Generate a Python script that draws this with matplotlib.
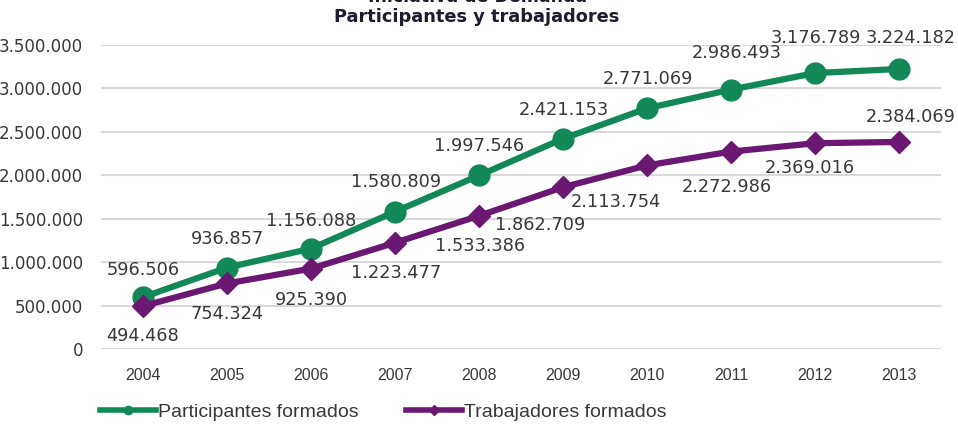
import matplotlib
matplotlib.use("Agg")
import matplotlib.pyplot as plt
from matplotlib.lines import Line2D
from matplotlib.ticker import FuncFormatter

years = ["2004", "2005", "2006", "2007", "2008", "2009", "2010", "2011", "2012", "2013"]
participantes = [596506, 936857, 1156088, 1580809, 1997546, 2421153, 2771069, 2986493, 3176789, 3224182]
trabajadores = [494468, 754324, 925390, 1223477, 1533386, 1862709, 2113754, 2272986, 2369016, 2384069]
yticks = [0, 500000, 1000000, 1500000, 2000000, 2500000, 3000000, 3500000]

# label offsets in pixels (dx, dy)
green_off = [(0, 27), (0, 29), (0, 28), (1, 30), (0, 29), (1, 29), (1, 29), (6, 37), (1, 35), (12, 31)]
purple_off = [(0, -30), (0, -31), (0, -31), (1, -30), (1, -30), (-23, -38), (-31, -37), (-4, -35), (-5, -25), (12, 25)]

GREEN = "#128858"
PURPLE = "#6a1872"
TXT = "#383838"


def dots(v, _=None):
    return "0" if v == 0 else f"{int(v):,}".replace(",", ".")


fig = plt.figure(figsize=(9.58, 4.33), dpi=100)
ax = fig.add_axes([101 / 958, 1 - 349 / 433, 840 / 958, 304 / 433])
x = range(len(years))

ax.plot(x, participantes, color=GREEN, lw=4.5, marker="o", ms=15, zorder=3, solid_capstyle="round")
ax.plot(x, trabajadores, color=PURPLE, lw=4.5, marker="D", ms=11, zorder=3, solid_capstyle="round")

for i, v in enumerate(participantes):
    dx, dy = green_off[i]
    ax.annotate(dots(v), (i, v), xytext=(dx * 0.72, dy * 0.72), textcoords="offset points",
                ha="center", va="center", fontsize=12.8, color=TXT)
for i, v in enumerate(trabajadores):
    dx, dy = purple_off[i]
    ax.annotate(dots(v), (i, v), xytext=(dx * 0.72, dy * 0.72), textcoords="offset points",
                ha="center", va="center", fontsize=12.8, color=TXT)

ax.set_xlim(-0.5, len(years) - 0.5)
ax.set_ylim(0, 3500000)
ax.set_yticks(yticks)
ax.yaxis.set_major_formatter(FuncFormatter(dots))
ax.set_xticks(list(x))
ax.set_xticklabels(years, family="Liberation Sans")
ax.tick_params(axis="y", length=0, pad=13, labelsize=12, labelcolor=TXT)
ax.tick_params(axis="x", length=0, pad=14, labelsize=11.5, labelcolor=TXT)
ax.grid(axis="y", color="#d9d9d9", lw=1.5, zorder=0)
ax.set_axisbelow(True)
for s in ax.spines.values():
    s.set_visible(False)

# title (first line is cut by the top edge in the reference)
fig.text(0.498, 1 + 3 / 433, "Iniciativa de Demanda", ha="center", va="center",
         fontsize=12.5, fontweight="bold", color="#1c1c2c")
fig.text(0.498, 1 - 17 / 433, "Participantes y trabajadores", ha="center", va="center",
         fontsize=12.8, fontweight="bold", color="#1c1c2c")

handles = [
    Line2D([], [], color=GREEN, lw=4, marker="o", ms=6),
    Line2D([], [], color=PURPLE, lw=4, marker="D", ms=5),
]
fig.legend(handles, ["Participantes formados", "Trabajadores formados"], loc="center left",
           bbox_to_anchor=(100 / 958, 1 - 412 / 433), ncol=2, frameon=False,
           prop={"family": "Liberation Sans", "size": 14},
           handlelength=2.9, handletextpad=0.1, columnspacing=2.4, labelcolor=TXT,
           borderaxespad=0, borderpad=0)

fig.savefig("out.png", dpi=100, facecolor="white")
